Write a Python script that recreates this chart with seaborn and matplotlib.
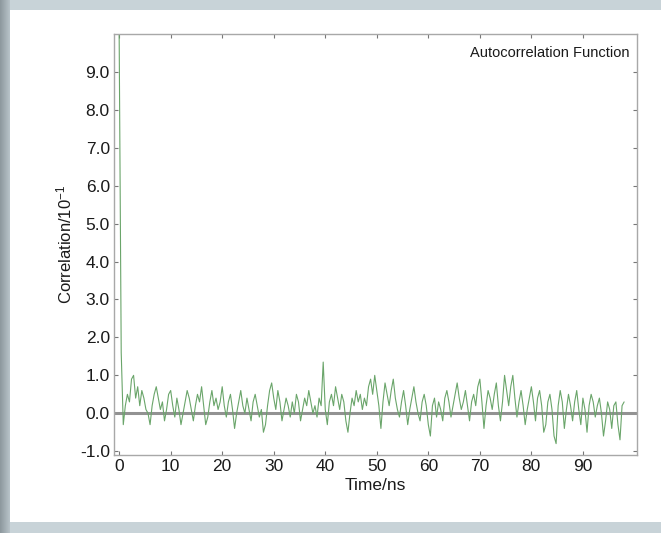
import numpy as np
import pandas as pd
import seaborn as sns
import matplotlib.pyplot as plt
from matplotlib.patches import Rectangle
from matplotlib.colors import LinearSegmentedColormap

# autocorrelation values (units of 10^-1), sampled every 0.4 ns
step_ns = 0.4
acf_0_10 = [10.0, 1.6, -0.3, 0.2, 0.5, 0.3, 0.9, 1.0, 0.4, 0.7, 0.2, 0.6, 0.4, 0.1, 0.0,
            -0.3, 0.2, 0.5, 0.7, 0.4, 0.1, 0.3, -0.2, 0.1, 0.5]
acf_10_20 = [0.6, 0.2, -0.1, 0.4, 0.1, -0.3, 0.0, 0.3, 0.6, 0.4, 0.1, -0.2, 0.2, 0.5, 0.3,
             0.7, 0.2, -0.3, -0.1, 0.3, 0.6, 0.2, 0.4, 0.1, 0.3]
acf_20_30 = [0.7, 0.2, -0.1, 0.3, 0.5, 0.1, -0.4, 0.0, 0.3, 0.6, 0.2, 0.0, 0.4, 0.1, -0.2,
             0.3, 0.5, 0.2, -0.1, 0.1, -0.5, -0.3, 0.2, 0.6, 0.8]
acf_30_40 = [0.4, 0.1, 0.6, 0.3, -0.2, 0.1, 0.4, 0.2, -0.1, 0.3, 0.0, 0.5, 0.3, -0.2, 0.1,
             0.4, 0.2, 0.6, 0.3, 0.0, 0.2, -0.1, 0.4, 0.2, 1.35]
acf_40_50 = [0.1, -0.3, 0.3, 0.5, 0.2, 0.7, 0.4, 0.1, 0.5, 0.3, -0.2, -0.5, 0.0, 0.4, 0.2,
             0.6, 0.3, 0.5, 0.1, 0.4, 0.2, 0.7, 0.9, 0.5, 1.0]
acf_50_60 = [0.6, 0.2, -0.4, 0.3, 0.8, 0.5, 0.2, 0.6, 0.9, 0.4, 0.1, -0.1, 0.3, 0.6, 0.2,
             -0.3, 0.1, 0.4, 0.7, 0.3, 0.0, -0.2, 0.3, 0.5, 0.2]
acf_60_70 = [-0.3, -0.6, 0.2, 0.4, -0.1, 0.3, 0.1, -0.2, 0.4, 0.6, 0.3, -0.1, 0.2, 0.5, 0.8,
             0.4, 0.1, 0.3, 0.6, 0.2, -0.2, 0.3, 0.5, 0.2, 0.7]
acf_70_80 = [0.9, 0.3, -0.4, 0.2, 0.6, 0.4, 0.1, 0.5, 0.8, 0.2, -0.2, 0.3, 1.0, 0.6, 0.2,
             0.7, 1.0, 0.4, -0.1, 0.3, 0.6, 0.2, -0.3, 0.1, 0.4]
acf_80_90 = [0.7, 0.3, -0.2, 0.4, 0.6, 0.2, -0.5, -0.3, 0.3, 0.5, 0.1, -0.6, -0.8, 0.2, 0.6,
             0.3, -0.4, 0.1, 0.5, 0.2, -0.2, 0.3, 0.6, 0.1, -0.3]
acf_90_98 = [0.4, 0.1, -0.5, 0.2, 0.5, 0.3, -0.1, 0.2, 0.4, 0.0, -0.6, -0.2, 0.3, 0.1, -0.4,
             0.2, 0.3, -0.3, -0.7, 0.2, 0.3]

acf = (acf_0_10 + acf_10_20 + acf_20_30 + acf_30_40 + acf_40_50 + acf_50_60 +
       acf_60_70 + acf_70_80 + acf_80_90 + acf_90_98)
time_ns = np.arange(len(acf)) * step_ns
df = pd.DataFrame({'Time': time_ns, 'ACF': acf})

x_ticks = [0, 10, 20, 30, 40, 50, 60, 70, 80, 90]
y_ticks = [-1, 0, 1, 2, 3, 4, 5, 6, 7, 8, 9]

sns.set_style('ticks')
plt.rcParams['font.family'] = ['Liberation Sans', 'DejaVu Sans']
plt.rcParams['mathtext.default'] = 'regular'

fig = plt.figure(figsize = (6.61, 5.33), dpi = 100, facecolor = '#c8d3d8')

# slide-like background: light blue-grey frame, darker strip on the left, white panel
bg = fig.add_axes([0, 0, 1, 1], zorder = -10)
grad = np.linspace(0, 1, 64)[None, :]
bg.imshow(grad, aspect = 'auto', extent = [0, 10 / 661, 0, 1],
          cmap = LinearSegmentedColormap.from_list('strip', ['#8c979d', '#b9c4c9']))
bg.add_patch(Rectangle((10 / 661, 11 / 533), 1, 512 / 533, color = 'white', lw = 0))
bg.set_xlim(0, 1)
bg.set_ylim(0, 1)
bg.axis('off')

ax = fig.add_axes([114 / 661, 78 / 533, 523 / 661, 421 / 533])
ax.axhline(0, color = '#929292', lw = 2.2, zorder = 1)
sns.lineplot(x = 'Time', y = 'ACF', data = df, color = '#6aa56a', lw = 0.8, ax = ax, zorder = 2)

ax.set_xlim(-1, 100.5)
ax.set_ylim(-1.1, 10.0)
ax.set_xticks(x_ticks)
ax.set_yticks(y_ticks)
ax.set_yticklabels([f'{v:.1f}' for v in y_ticks])
ax.tick_params(direction = 'in', length = 3, width = 0.8, color = '#777777',
               top = True, right = True, labelsize = 12.5, pad = 3, labelcolor = '#1a1a1a')
for s in ax.spines.values():
    s.set_color('#a8a8a8')
    s.set_linewidth(1.0)

ax.set_xlabel('Time/ns', fontsize = 12.5, labelpad = 3, color = '#1a1a1a')
ax.set_ylabel('Correlation/10$^{-1}$', fontsize = 12, labelpad = 4, color = '#1a1a1a')
ax.text(0.985, 0.955, 'Autocorrelation Function', transform = ax.transAxes,
        ha = 'right', va = 'center', fontsize = 10.5, color = '#1a1a1a')

plt.savefig('out.png', dpi = 100, facecolor = fig.get_facecolor())
